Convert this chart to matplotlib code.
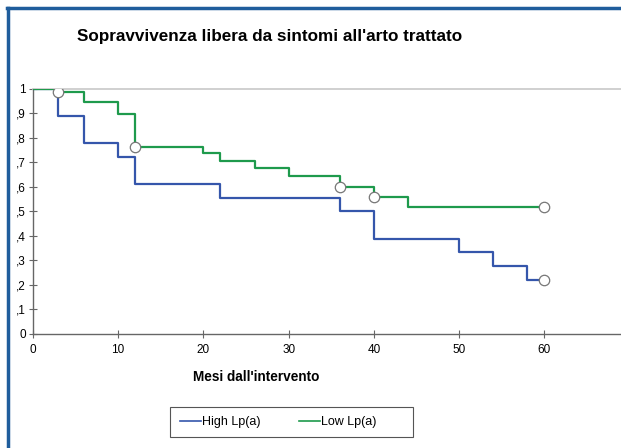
import numpy as np
import matplotlib
matplotlib.use('Agg')
from matplotlib import pyplot as plt
from matplotlib.lines import Line2D
from matplotlib.patches import Rectangle

plt.rcParams['font.family'] = ['Liberation Sans', 'DejaVu Sans']

# Kaplan-Meier steps
high_t = [0, 3, 6, 10, 12, 22, 36, 40, 50, 54, 58, 60]
high_s = [1.0, 0.889, 0.778, 0.722, 0.611, 0.556, 0.5, 0.389, 0.333, 0.278, 0.222, 0.222]
high_cens = [60]

low_t = [0, 3, 6, 10, 12, 20, 22, 26, 30, 36, 40, 44, 60]
low_s = [1.0, 0.988, 0.947, 0.897, 0.765, 0.737, 0.706, 0.676, 0.643, 0.598, 0.559, 0.519, 0.519]
low_cens = [3, 12, 36, 40, 60]

x_ticks = [0, 10, 20, 30, 40, 50, 60]
y_ticks = [0, 0.1, 0.2, 0.3, 0.4, 0.5, 0.6, 0.7, 0.8, 0.9, 1.0]
y_labels = ['0', ',1', ',2', ',3', ',4', ',5', ',6', ',7', ',8', ',9', '1']

blue = '#3556ab'
green = '#1e9a4c'


def at_time(t, s, c):
    t = np.asarray(t)
    idx = np.searchsorted(t, c, side='right') - 1
    return np.asarray(s)[idx]


fig = plt.figure(figsize=(6.21, 4.48), dpi=100)
ax = fig.add_axes([0.053, 0.2545, 0.947, 0.547])

ax.step(high_t, high_s, where='post', color=blue, lw=1.6, label='High Lp(a)', zorder=3)
ax.step(low_t, low_s, where='post', color=green, lw=1.6, label='Low Lp(a)', zorder=3)

ax.plot(high_cens, at_time(high_t, high_s, high_cens), 'o', ms=7.5,
        mfc='white', mec='#777777', mew=0.9, zorder=5)
ax.plot(low_cens, at_time(low_t, low_s, low_cens), 'o', ms=7.5,
        mfc='white', mec='#777777', mew=0.9, zorder=5)

ax.set_xlim(0, 69)
ax.set_ylim(0, 1)
ax.set_xticks(x_ticks)
ax.set_yticks(y_ticks)
ax.set_yticklabels(y_labels)
ax.tick_params(direction='inout', length=6, width=0.8, color='#666666',
               labelsize=8.5, pad=2)
ax.tick_params(axis='x', pad=4)
for side in ['left', 'bottom']:
    ax.spines[side].set_color('#666666')
    ax.spines[side].set_linewidth(1.0)
ax.spines['top'].set_color('#c8c8c8')
ax.spines['top'].set_linewidth(1.2)
ax.spines['right'].set_visible(False)

ax.set_xlabel("Mesi dall'intervento", fontsize=9.8, fontweight='bold')
ax.xaxis.set_label_coords((256 - 33) / 587, -0.147)

fig.text(77 / 621, 1 - 37 / 448, "Sopravvivenza libera da sintomi all'arto trattato",
         fontsize=12.3, fontweight='bold', va='center', ha='left')

# legend entries without frame, box drawn separately (it is wider on the right)
leg = ax.legend(loc='center left', bbox_to_anchor=(180 / 621, 1 - 422 / 448),
                bbox_transform=fig.transFigure, ncol=2, frameon=False, fontsize=9,
                handlelength=1.7, handletextpad=0.1, columnspacing=3.0,
                borderpad=0, borderaxespad=0)
for h in leg.get_lines():
    h.set_linewidth(1.2)
fig.add_artist(Rectangle((170 / 621, 1 - 437 / 448), 243 / 621, 30 / 448,
                         transform=fig.transFigure, fill=False,
                         edgecolor='#555555', lw=0.8))

# blue slide border on the left and top
fig.add_artist(Line2D([8 / 621, 8 / 621], [0, 1 - 8 / 448], color='#1f5d9c', lw=2.5,
                      transform=fig.transFigure))
fig.add_artist(Line2D([7 / 621, 1], [1 - 8 / 448, 1 - 8 / 448], color='#1f5d9c', lw=2.5,
                      transform=fig.transFigure))

fig.savefig('out.png', dpi=100)
